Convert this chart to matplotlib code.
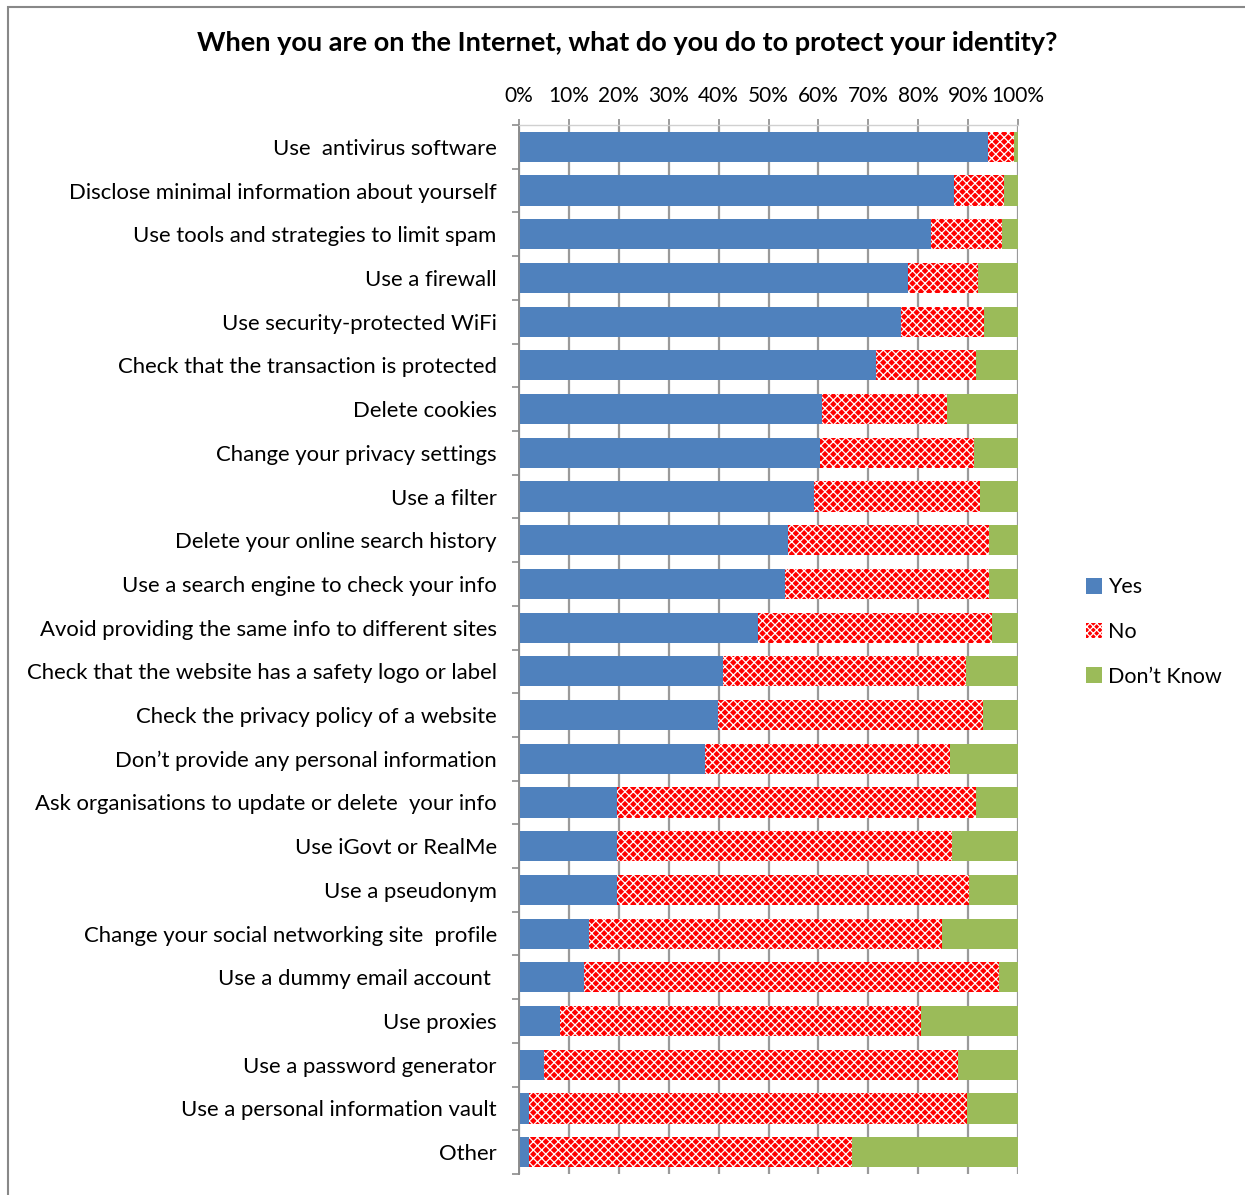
import numpy as np
import matplotlib
matplotlib.use("Agg")
import matplotlib.pyplot as plt
from matplotlib.patches import Rectangle, Patch

plt.rcParams['font.family'] = ['Lato', 'DejaVu Sans']
plt.rcParams['hatch.linewidth'] = 0.9

categories = [
    "Use  antivirus software",
    "Disclose minimal information about yourself",
    "Use tools and strategies to limit spam",
    "Use a firewall",
    "Use security-protected WiFi",
    "Check that the transaction is protected",
    "Delete cookies",
    "Change your privacy settings",
    "Use a filter",
    "Delete your online search history",
    "Use a search engine to check your info",
    "Avoid providing the same info to different sites",
    "Check that the website has a safety logo or label",
    "Check the privacy policy of a website",
    "Don\u2019t provide any personal information",
    "Ask organisations to update or delete  your info",
    "Use iGovt or RealMe",
    "Use a pseudonym",
    "Change your social networking site  profile",
    "Use a dummy email account ",
    "Use proxies",
    "Use a password generator",
    "Use a personal information vault",
    "Other",
]

# percent of respondents answering yes / no; remainder is "don't know"
yes = [94.0, 87.2, 82.5, 77.9, 76.5, 71.6, 60.8, 60.4, 59.1, 54.0, 53.4, 47.9,
       40.8, 39.8, 37.3, 19.7, 19.7, 19.6, 14.0, 13.0, 8.2, 5.0, 2.0, 2.0]
no = [5.2, 9.9, 14.2, 14.1, 16.6, 20.0, 24.9, 30.7, 33.3, 40.1, 40.8, 46.9,
      48.7, 53.1, 49.0, 71.9, 67.0, 70.6, 70.7, 83.2, 72.4, 82.9, 87.7, 64.8]
dont_know = [100 - a - b for a, b in zip(yes, no)]

blue = "#4F81BD"
red = "#FF0000"
green = "#9BBB59"

fig = plt.figure(figsize=(12.45, 11.95), dpi=100)
ax = fig.add_axes([519 / 1245, 1 - 1174 / 1195, 499 / 1245, (1174 - 125) / 1195])

y = np.arange(len(categories))
h = 0.69
yes_a = np.array(yes)
no_a = np.array(no)
dk_a = np.array(dont_know)

ax.barh(y, yes_a, height=h, color=blue, linewidth=0, zorder=2, label="Yes")
ax.barh(y, no_a, left=yes_a, height=h, facecolor=red, edgecolor="white",
        hatch="xxxx", linewidth=0, zorder=2, label="No")
ax.barh(y, dk_a, left=yes_a + no_a, height=h, color=green, linewidth=0,
        zorder=2, label="Don\u2019t Know")

ax.set_xlim(0, 100)
ax.set_ylim(len(categories) - 0.5, -0.5)
ax.set_xticks(np.arange(0, 101, 10))
ax.set_xticklabels([f"{v}%" for v in range(0, 101, 10)], fontsize=15)
ax.xaxis.tick_top()
ax.tick_params(axis="x", direction="out", length=4, width=1.2, color="#8C8C8C", pad=10)
ax.grid(axis="x", color="#9A9A9A", linewidth=1.6, zorder=0)
ax.set_axisbelow(True)

ax.set_yticks(y)
ax.set_yticklabels(categories, fontsize=15.9)
ax.tick_params(axis="y", length=0, pad=16)
ax.set_yticks(np.arange(-0.5, len(categories), 1), minor=True)
ax.tick_params(axis="y", which="minor", direction="out", length=5, width=1.2, color="#8C8C8C")

for s in ["right", "bottom"]:
    ax.spines[s].set_visible(False)
ax.spines["left"].set_color("#8C8C8C")
ax.spines["left"].set_linewidth(1.4)
ax.spines["top"].set_color("#D0D0D0")
ax.spines["top"].set_linewidth(1.0)

fig.text(627 / 1245, 1 - 43 / 1195, "When you are on the Internet, what do you do to protect your identity?",
         ha="center", va="center", fontsize=19.5, fontweight="bold")

handles = [Patch(facecolor=blue, linewidth=0),
           Patch(facecolor=red, edgecolor="white", hatch="xxxxx", linewidth=0),
           Patch(facecolor=green, linewidth=0)]
fig.legend(handles, ["Yes", "No", "Don\u2019t Know"], loc="center left",
           bbox_to_anchor=(1086 / 1245, 1 - 632 / 1195), frameon=False,
           borderpad=0, borderaxespad=0,
           fontsize=15.5, handlelength=0.75, handleheight=0.75, handletextpad=0.25,
           labelspacing=1.15)

# outer chart border
fig.patches.append(Rectangle((8 / 1245, -0.1), 1.2, 1 - 7 / 1195 + 0.1,
                             transform=fig.transFigure, fill=False,
                             edgecolor="#888888", linewidth=1.5))

fig.savefig("out.png", dpi=100)
